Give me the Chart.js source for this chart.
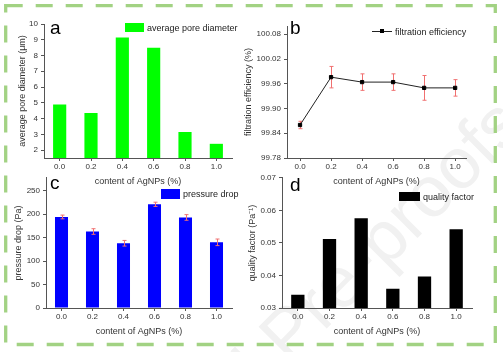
<!DOCTYPE html>
<html lang="en">
<head>
<meta charset="UTF-8">
<title>AgNPs membranes</title>
<script src="https://cdn.jsdelivr.net/npm/chart.js"></script>
<style>
    body {
        margin: 0;
        width: 503px;
        height: 352px;
        position: relative;
        overflow: hidden;
        background: #fff;
        font-family: "Liberation Sans", Arial, sans-serif;
    }
    canvas { position: absolute; }
    #frame { position: absolute; left: 0; top: 0; }
    #watermark {
        position: absolute;
        left: 300px;
        top: 320px;
        transform: translate(-50%, -50%) rotate(-45deg);
        font-size: 72px;
        color: #f1f1f1;
        white-space: nowrap;
    }
    .tag { position: absolute; font-size: 19px; line-height: 1; color: #000; }
    .legend {
        position: absolute;
        display: flex;
        align-items: center;
        font-size: 9px;
        color: #222;
        white-space: nowrap;
    }
    .swatch { display: inline-block; margin-right: 3px; }
    .lineKey { position: relative; width: 20px; height: 1px; background: #222; margin-right: 3px; }
    .lineKey span { position: absolute; left: 8px; top: -2px; width: 4px; height: 4px; background: #000; }
</style>
</head>
<body>
<div id="watermark">Journal Pre-proofs</div>
<svg id="frame" width="503" height="352">
    <rect x="5.7" y="5.7" width="489.6" height="338.8" fill="none" stroke="#a2d283" stroke-width="3.3" stroke-dasharray="17 13"/>
</svg>

<canvas id="chartA" width="250" height="187" style="left:0;top:0"></canvas>
<canvas id="chartB" width="265" height="187" style="left:238px;top:0"></canvas>
<canvas id="chartC" width="250" height="167" style="left:0;top:170px"></canvas>
<canvas id="chartD" width="265" height="167" style="left:238px;top:170px"></canvas>

<div class="tag" style="left:50px;top:18px">a</div>
<div class="tag" style="left:290px;top:18px">b</div>
<div class="tag" style="left:50px;top:173px">c</div>
<div class="tag" style="left:290px;top:175px">d</div>

<div class="legend" style="left:125px;top:22px;height:11px">
    <span class="swatch" style="width:19px;height:9px;background:#00ff00"></span>average pore diameter
</div>
<div class="legend" style="left:372px;top:26px;height:11px">
    <div class="lineKey"><span></span></div>filtration efficiency
</div>
<div class="legend" style="left:161px;top:188px;height:12px">
    <span class="swatch" style="width:19px;height:10px;background:#0000ff"></span>pressure drop
</div>
<div class="legend" style="left:399px;top:191px;height:11px">
    <span class="swatch" style="width:21px;height:9px;background:#000"></span>quality factor
</div>

<script>
    // AgNPs content (%)
    const contentLabels = ['0.0', '0.2', '0.4', '0.6', '0.8', '1.0'];
    const contentValues = [0, 0.2, 0.4, 0.6, 0.8, 1.0];

    // a: average pore diameter (um)
    const poreDiameter = [4.9, 4.35, 9.15, 8.5, 3.15, 2.4];
    const poreTicks = [2, 3, 4, 5, 6, 7, 8, 9, 10];

    // b: filtration efficiency (%)
    const efficiency = [99.86, 99.976, 99.964, 99.964, 99.95, 99.95];
    const efficiencyErr = [0.009, 0.026, 0.02, 0.02, 0.03, 0.02];
    const efficiencyTicks = [99.78, 99.84, 99.90, 99.96, 100.02, 100.08];

    // c: pressure drop (Pa)
    const pressureDrop = [194, 163, 138, 221, 193, 140];
    const pressureErr = [4, 6, 6, 4.5, 6, 7];
    const pressureTicks = [0, 50, 100, 150, 200, 250];

    // d: quality factor (Pa^-1)
    const qualityFactor = [0.0341, 0.0512, 0.0576, 0.0359, 0.0397, 0.0542];
    const qualityTicks = [0.03, 0.04, 0.05, 0.06, 0.07];

    Chart.defaults.font.family = '"Liberation Sans", Arial, sans-serif';
    Chart.defaults.color = '#333';
    Chart.defaults.animation = false;

    const axisColor = '#555';

    const errorBars = {
        id: 'errorBars',
        draw(chart) {
            const ctx = chart.ctx;
            const yScale = chart.scales.y;
            chart.data.datasets.forEach((ds, i) => {
                if (!ds.errors) return;
                const meta = chart.getDatasetMeta(i);
                ctx.save();
                ctx.strokeStyle = '#f07070';
                ctx.lineWidth = 1;
                meta.data.forEach((el, j) => {
                    const v = typeof ds.data[j] === 'object' ? ds.data[j].y : ds.data[j];
                    const top = yScale.getPixelForValue(v + ds.errors[j]);
                    const bot = yScale.getPixelForValue(v - ds.errors[j]);
                    const x = Math.round(el.x) + 0.5;
                    ctx.beginPath();
                    ctx.moveTo(x, top); ctx.lineTo(x, bot);
                    ctx.moveTo(x - 2, top); ctx.lineTo(x + 2, top);
                    ctx.moveTo(x - 2, bot); ctx.lineTo(x + 2, bot);
                    ctx.stroke();
                });
                ctx.restore();
            });
        },
        beforeDatasetsDraw(chart) {
            if (chart.config.type === 'line') this.draw(chart);
        },
        afterDatasetsDraw(chart) {
            if (chart.config.type !== 'line') this.draw(chart);
        }
    };

    function yAxis(min, max, ticks, digits, title, width) {
        return {
            min: min,
            max: max,
            afterBuildTicks: s => { s.ticks = ticks.map(v => ({ value: v })); },
            afterFit: s => { s.width = width; },
            ticks: {
                font: { size: 8 },
                padding: 3,
                callback: v => v.toFixed(digits)
            },
            grid: { drawOnChartArea: false, tickLength: 3, color: axisColor },
            border: { color: axisColor },
            title: { display: true, text: title, font: { size: 9 }, color: '#333', padding: 0 }
        };
    }

    function xAxis(extra) {
        return Object.assign({
            afterFit: s => { s.height = 29; },
            ticks: { font: { size: 8 }, padding: 1, maxRotation: 0 },
            grid: { drawOnChartArea: false, tickLength: 3, color: axisColor, offset: false },
            border: { color: axisColor },
            title: { display: true, text: 'content of AgNPs (%)', font: { size: 9 }, color: '#333', padding: 0 }
        }, extra);
    }

    function barChart(id, values, errors, color, yCfg, pad) {
        return new Chart(document.getElementById(id), {
            type: 'bar',
            data: {
                labels: contentLabels,
                datasets: [{
                    data: values,
                    errors: errors,
                    backgroundColor: color,
                    borderWidth: 0,
                    categoryPercentage: 1,
                    barPercentage: 0.42
                }]
            },
            options: {
                responsive: false,
                layout: { padding: pad },
                plugins: { legend: { display: false }, tooltip: { enabled: false } },
                scales: { x: xAxis({}), y: yCfg }
            },
            plugins: [errorBars]
        });
    }

    barChart('chartA', poreDiameter, null, '#00ff00',
        yAxis(1.5, 10, poreTicks, 0, 'average pore diameter (\u03bcm)', 27),
        { left: 17, top: 24, right: 18, bottom: 0 });

    barChart('chartC', pressureDrop, pressureErr, '#0000ff',
        yAxis(0, 277.5, pressureTicks, 0, 'pressure drop (Pa)', 33),
        { left: 13, top: 7, right: 18, bottom: 0 });

    barChart('chartD', qualityFactor, null, '#000000',
        yAxis(0.03, 0.07, qualityTicks, 2, 'quality factor (Pa\u207b\u00b9)', 35),
        { left: 9, top: 5, right: 31, bottom: 0 });

    new Chart(document.getElementById('chartB'), {
        type: 'line',
        data: {
            datasets: [{
                data: contentValues.map((x, i) => ({ x: x, y: efficiency[i] })),
                errors: efficiencyErr,
                borderColor: '#222',
                borderWidth: 1,
                pointStyle: 'rect',
                pointRadius: 2.3,
                pointBackgroundColor: '#000',
                pointBorderColor: '#000',
                tension: 0
            }]
        },
        options: {
            responsive: false,
            layout: { padding: { left: 5, top: 26, right: 37, bottom: 0 } },
            plugins: { legend: { display: false }, tooltip: { enabled: false } },
            scales: {
                x: xAxis({
                    type: 'linear',
                    min: -0.084,
                    max: 1.07,
                    afterBuildTicks: s => { s.ticks = contentValues.map(v => ({ value: v })); },
                    ticks: { font: { size: 8 }, padding: 1, maxRotation: 0, callback: v => v.toFixed(1) }
                }),
                y: yAxis(99.78, 100.10, efficiencyTicks, 2, 'filtration efficiency (%)', 44)
            }
        },
        plugins: [errorBars]
    });
</script>
</body>
</html>
